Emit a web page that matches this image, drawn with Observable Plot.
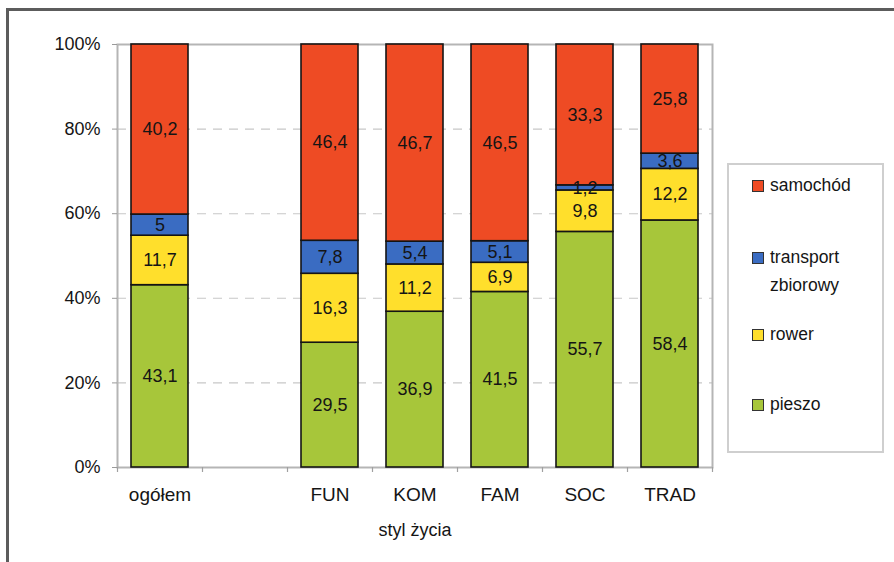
<!DOCTYPE html>
<html>
<head>
<meta charset="utf-8">
<script src="https://cdn.jsdelivr.net/npm/d3@7"></script>
<script src="https://cdn.jsdelivr.net/npm/@observablehq/plot@0.6"></script>
<style>
  html, body { margin: 0; padding: 0; background: #fff; }
  #wrap { position: relative; width: 894px; height: 562px; overflow: hidden; background: #fff;
          font-family: "Liberation Sans", Arial, sans-serif; }
  #frame { position: absolute; left: 6px; top: 8px; width: 900px; height: 560px;
           border-left: 3px solid #5c5c5c; border-top: 3px solid #5c5c5c; box-sizing: border-box; }
  #chart { position: absolute; left: 0; top: 0; }
  #legend { position: absolute; left: 727px; top: 163px; width: 157px; height: 290px;
            border: 2px solid #cfcfcf; box-sizing: border-box; background: #fff; }
  .item { position: absolute; left: 23px; font-size: 17.5px; color: #151515; line-height: 28px; }
  .sw { position: absolute; left: 0; top: 9px; width: 10px; height: 10px; border: 1px solid #333; }
  .lab { position: absolute; left: 18px; top: 0; white-space: nowrap; }
</style>
</head>
<body>
<div id="wrap">
  <div id="frame"></div>
  <div id="chart"></div>
  <div id="legend"></div>
</div>
<script>
// Categories on the x axis; the blank slot separates the total from the lifestyle groups
const kategorie = ["ogółem", " ", "FUN", "KOM", "FAM", "SOC", "TRAD"];
const grupy = ["ogółem", "FUN", "KOM", "FAM", "SOC", "TRAD"];

// Share of each mode of travel (%), stacked bottom to top
const srodki = ["pieszo", "rower", "transport zbiorowy", "samochód"];
const pieszo    = [43.1, 29.5, 36.9, 41.5, 55.7, 58.4];
const rower     = [11.7, 16.3, 11.2, 6.9, 9.8, 12.2];
const transport = [5, 7.8, 5.4, 5.1, 1.2, 3.6];
const samochod  = [40.2, 46.4, 46.7, 46.5, 33.3, 25.8];

const kolory = ["#a7c63a", "#ffdf2c", "#3a6cc2", "#ee4b24"];
const yTicks = [0, 0.2, 0.4, 0.6, 0.8, 1];

const serie = [pieszo, rower, transport, samochod];
const rows = [];
srodki.forEach((s, j) => grupy.forEach((g, i) => rows.push({kat: g, srodek: s, v: serie[j][i]})));

const fmt = v => String(v).replace(".", ",");
const step = 595 / 7;

const chart = Plot.plot({
  width: 894,
  height: 562,
  marginLeft: 117,
  marginRight: 182,
  marginTop: 44,
  marginBottom: 95,
  style: {fontFamily: "Liberation Sans, Arial, sans-serif", background: "transparent"},
  x: {domain: kategorie, paddingInner: 0.33, paddingOuter: 0.165, axis: null},
  y: {domain: [0, 1], axis: null},
  color: {domain: srodki, range: kolory},
  marks: [
    Plot.ruleY([0.2, 0.4, 0.6, 0.8], {stroke: "#c8c8c8", strokeDasharray: "9,7", strokeWidth: 1.1}),
    Plot.frame({stroke: "#b5b5b5", strokeWidth: 2}),
    Plot.barY(rows, Plot.stackY({offset: "normalize"}, {
      x: "kat", y: "v", z: "srodek", fill: "srodek", stroke: "#141414", strokeWidth: 1.6
    })),
    Plot.text(rows, Plot.stackY({offset: "normalize"}, {
      x: "kat", y: "v", z: "srodek", text: d => fmt(d.v), fill: "#151515", fontSize: 18
    })),
    // y axis
    Plot.axisY({ticks: yTicks, tickFormat: d3.format(".0%"), tickSize: 5, tickPadding: 12,
      stroke: "#9a9a9a", fill: "#151515", fontSize: 18, label: null}),
    // category labels
    Plot.axisX({tickSize: 0, tickPadding: 20, fill: "#151515", fontSize: 19, label: null,
      tickFormat: d => d.trim()}),
    // slot boundary ticks below the axis
    Plot.tickX(kategorie, {x: d => d, dx: -step / 2, stroke: "#a0a0a0", strokeWidth: 1.2,
      insetTop: 423, insetBottom: -5}),
    Plot.tickX([kategorie[kategorie.length - 1]], {x: d => d, dx: step / 2, stroke: "#a0a0a0",
      strokeWidth: 1.2, insetTop: 423, insetBottom: -5}),
    // axis title
    Plot.text(["styl życia"], {frameAnchor: "bottom", dy: 63, text: d => d, fill: "#151515",
      fontSize: 18, lineAnchor: "middle"})
  ]
});
document.getElementById("chart").appendChild(chart);

// Legend, listed top to bottom as the stack reads
const legendItems = [
  {label: "samochód", color: kolory[3], top: 6},
  {label: "transport<br>zbiorowy", color: kolory[2], top: 78},
  {label: "rower", color: kolory[1], top: 155},
  {label: "pieszo", color: kolory[0], top: 225}
];
const legend = document.getElementById("legend");
legendItems.forEach(it => {
  const div = document.createElement("div");
  div.className = "item";
  div.style.top = it.top + "px";
  div.innerHTML = `<span class="sw" style="background:${it.color}"></span><span class="lab">${it.label}</span>`;
  legend.appendChild(div);
});
</script>
</body>
</html>
